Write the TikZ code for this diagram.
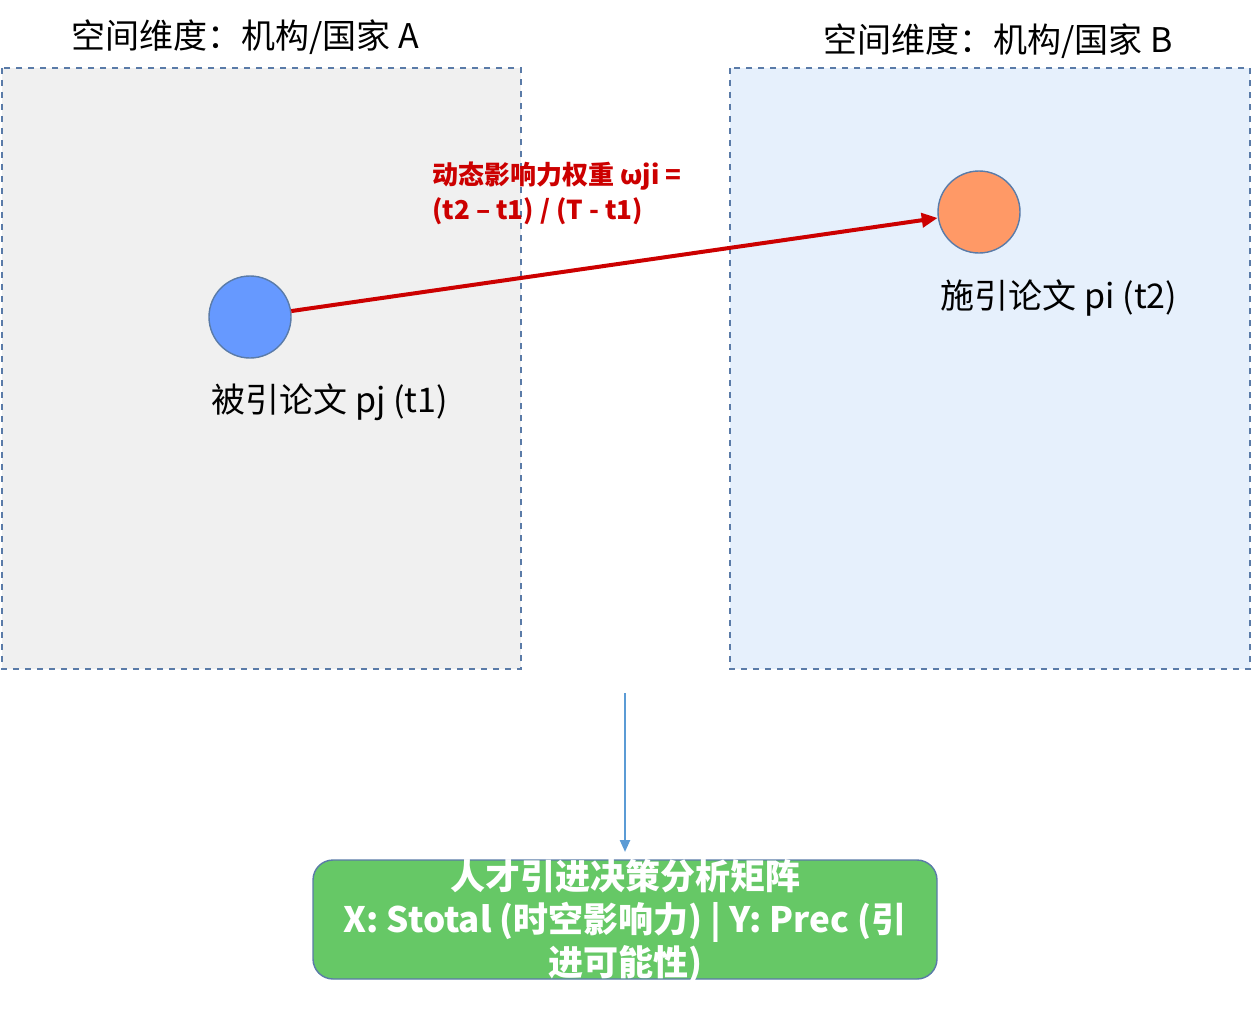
\documentclass[tikz,border=0pt]{standalone}
\usepackage{fontspec}
\setmainfont{Noto Sans CJK SC}
\usetikzlibrary{arrows.meta}
\definecolor{boxA}{HTML}{F0F0F0}
\definecolor{boxB}{HTML}{E6F0FC}
\definecolor{edgeblue}{HTML}{5A7BA8}
\definecolor{nodeblue}{HTML}{6699FF}
\definecolor{nodeorange}{HTML}{FF9966}
\definecolor{weightred}{HTML}{CC0000}
\definecolor{flowblue}{HTML}{5B9BD5}
\definecolor{matgreen}{HTML}{66C866}
\tikzset{
  region/.style={draw=edgeblue, dashed, line width=0.7pt},
  title/.style={font=\fontsize{17}{20}\selectfont},
  paper/.style={circle, draw=edgeblue, line width=0.7pt, minimum size=41pt, inner sep=0pt},
  plabel/.style={font=\fontsize{17}{20}\selectfont},
}
\begin{document}
\begin{tikzpicture}[x=0.5pt,y=-0.5pt]
  \useasboundingbox (0,0) rectangle (1251,1011);
  % regions
  \draw[region, fill=boxA] (2,68) rectangle (521,669);
  \draw[region, fill=boxB] (730,68) rectangle (1250,669);
  \node[title] (titleA) at (245,37) {空间维度：机构/国家 A};
  \node[title] (titleB) at (998,41) {空间维度：机构/国家 B};
  % papers
  \node[paper, fill=nodeblue] (pj) at (250,317) {};
  \node[paper, fill=nodeorange] (pi) at (979,212) {};
  \node[plabel] (pjlab) at (330,402) {被引论文 pj (t1)};
  \node[plabel] (pilab) at (1059,298) {施引论文 pi (t2)};
  % citation weight
  \draw[weightred, line width=2pt, -{Triangle[length=8pt,width=7pt]}] (pj) -- (pi);
  \node[weightred, anchor=north west, align=left, inner sep=0pt,
        font=\fontsize{13}{17.5}\selectfont\bfseries] (wlab) at (432,162)
        {动态影响力权重 ωji =\\(t2 – t1) / (T - t1)};
  % matrix
  \node[draw=edgeblue, fill=matgreen, rounded corners=10pt, line width=0.7pt,
        minimum width=312pt, minimum height=59.5pt] (mat) at (625,919.5) {};
  \node[white, align=center, font=\fontsize{17.5}{21.5}\selectfont\bfseries] (mattext) at (625,921)
        {人才引进决策分析矩阵\\X: Stotal (时空影响力) | Y: Prec (引\\进可能性)};
  \coordinate (flowstart) at (625,693);
  \draw[flowblue, line width=1.2pt, -{Triangle[length=6pt,width=5pt]}] (flowstart) -- (625,852);
\end{tikzpicture}
\end{document}
